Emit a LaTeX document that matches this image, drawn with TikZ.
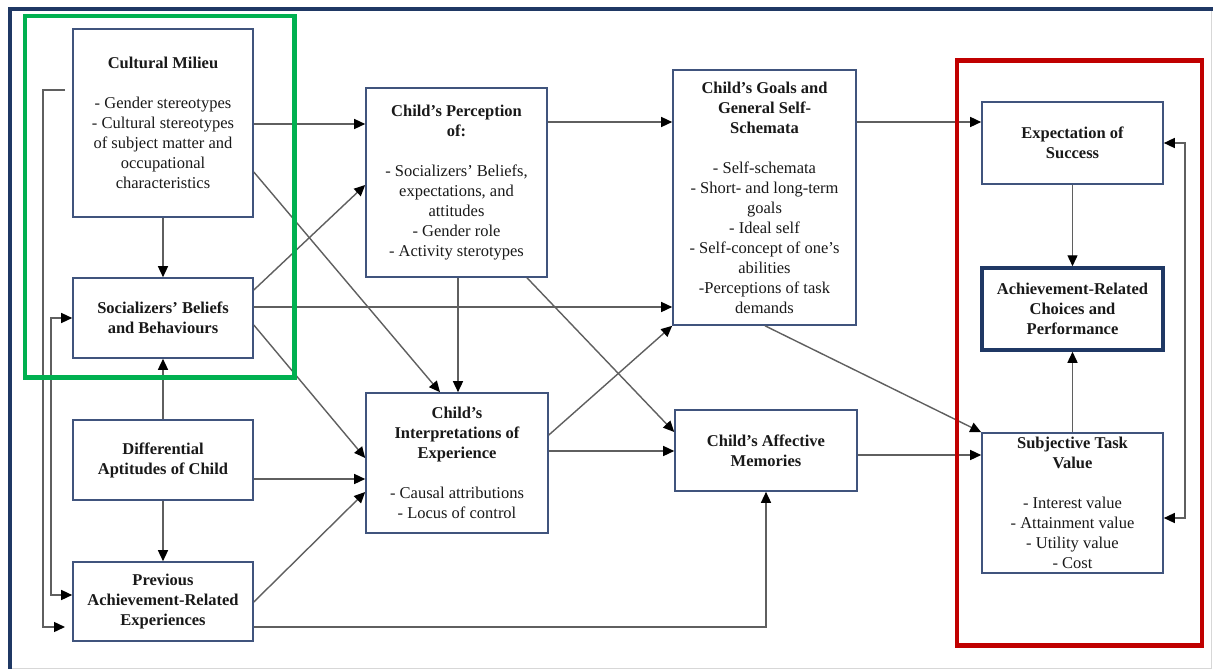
\documentclass[tikz,border=0pt]{standalone}
\usepackage{fontspec}
\setmainfont{Liberation Serif}
\usetikzlibrary{arrows.meta}
\definecolor{boxc}{RGB}{64,84,125}
\definecolor{navy}{RGB}{31,56,100}
\definecolor{linec}{RGB}{95,95,95}
\definecolor{grn}{RGB}{0,176,80}
\definecolor{rd}{RGB}{192,0,0}
\definecolor{txt}{RGB}{25,25,25}
\definecolor{edgegray}{RGB}{215,215,215}
\begin{document}
\begin{tikzpicture}[x=1pt,y=-1pt,
  box/.style={draw=boxc, line width=1.6pt, fill=white, align=center, inner sep=1pt,
              text=txt, font=\fontsize{16.5}{20}\selectfont},
  tbox/.style={box, font=\fontsize{16.5}{20}\selectfont\bfseries},
  conn/.style={draw=linec, line width=1.4pt, -{Triangle[length=11pt,width=10pt,color=black]}},
  conntwo/.style={draw=linec, line width=1.4pt,
     {Triangle[length=11pt,width=10pt,color=black]}-{Triangle[length=11pt,width=10pt,color=black]}},
  frameline/.style={line width=4.4pt}]
\useasboundingbox (0,0) rectangle (1213,669);
\fill[white] (0,0) rectangle (1213,669);

% page frame
\draw[edgegray, line width=1pt] (1211,11) -- (1211,668) -- (12,668);
\draw[navy, line width=4pt] (10,669) -- (10,9) -- (1213,9);

% nodes
\node[box, minimum width=180pt, minimum height=188pt] (cm) at (163,123)
  {\textbf{Cultural Milieu}\\[20pt]- Gender stereotypes\\- Cultural stereotypes\\of subject matter and\\occupational\\characteristics};
\node[tbox, minimum width=180pt, minimum height=80pt] (sb) at (163,318)
  {Socializers’ Beliefs\\and Behaviours};
\node[tbox, minimum width=180pt, minimum height=80pt] (da) at (163,460)
  {Differential\\Aptitudes of Child};
\node[tbox, minimum width=180pt, minimum height=79pt] (pa) at (163,601.5)
  {Previous\\Achievement-Related\\Experiences};
\node[box, minimum width=181pt, minimum height=189pt] (cp) at (456.5,182.5)
  {\textbf{Child’s Perception}\\\textbf{of:}\\[20pt]- Socializers’ Beliefs,\\expectations, and\\attitudes\\- Gender role\\- Activity  sterotypes};
\node[box, minimum width=182pt, minimum height=140pt] (ci) at (457,463)
  {\textbf{Child’s}\\\textbf{Interpretations of}\\\textbf{Experience}\\[20pt]- Causal attributions\\- Locus of control};
\node[box, minimum width=183pt, minimum height=255pt] (cg) at (764.5,197.5)
  {\textbf{Child’s Goals and}\\\textbf{General Self-}\\\textbf{Schemata}\\[20pt]- Self-schemata\\- Short- and long-term\\goals\\- Ideal self\\- Self-concept of one’s\\abilities\\-Perceptions of task\\demands};
\node[tbox, minimum width=182pt, minimum height=81pt] (ca) at (766,450.5)
  {Child’s Affective\\Memories};
\node[tbox, minimum width=181pt, minimum height=82pt] (es) at (1072.5,143)
  {Expectation of\\Success};
\node[tbox, draw=navy, line width=3.5pt, minimum width=181pt, minimum height=82pt] (ac) at (1072.5,309)
  {Achievement-Related\\Choices and\\Performance};
\node[box, minimum width=181pt, minimum height=140pt] (st) at (1072.5,503)
  {\textbf{Subjective Task}\\\textbf{Value}\\[20pt]- Interest value\\- Attainment value\\- Utility value\\- Cost};

% free ends of the outer feedback line
\coordinate (fa) at (65,90);
\coordinate (fb) at (65,627);

% connectors
\draw[conn] (cm.east |- 0,124) -- (cp.west |- 0,124);
\draw[conn] (cm.east |- 0,172) -- (440,0 |- ci.north);
\draw[conn] (cm.south) -- (sb.north);
\draw[conn] (fa) -- (43,90) -- (43,627) -- (fb);
\draw[conntwo] (sb.west |- 0,318) -- (51,318) -- (51,595) -- (pa.west |- 0,595);
\draw[conn] (sb.east |- 0,290) -- (cp.west |- 0,185);
\draw[conn] (sb.east |- 0,307) -- (cg.west |- 0,307);
\draw[conn] (sb.east |- 0,325) -- (ci.west |- 0,458);
\draw[conn] (da.north) -- (sb.south);
\draw[conn] (da.east |- 0,479) -- (ci.west |- 0,479);
\draw[conn] (da.south) -- (pa.north);
\draw[conn] (pa.east |- 0,602) -- (ci.west |- 0,492);
\draw[conn] (pa.east |- 0,627) -| (ca.south);
\draw[conn] (cp.east |- 0,122) -- (cg.west |- 0,122);
\draw[conn] (458,0 |- cp.south) -- (458,0 |- ci.north);
\draw[conn] (527,0 |- cp.south) -- (ca.west |- 0,432);
\draw[conn] (ci.east |- 0,435) -- (cg.south west);
\draw[conn] (ci.east |- 0,451) -- (ca.west |- 0,451);
\draw[conn] (cg.east |- 0,122) -- (es.west |- 0,122);
\draw[conn] (765,0 |- cg.south) -- (st.north west);
\draw[conn] (ca.east |- 0,455) -- (st.west |- 0,455);
\draw[conn] (es.south) -- (ac.north);
\draw[conn] (st.north) -- (ac.south);
\draw[conntwo] (es.east |- 0,143) -- (1185,143) -- (1185,518) -- (st.east |- 0,518);

% highlight frames
\draw[grn, frameline] (25,16) rectangle (294.5,377.5);
\draw[rd, frameline] (957,60.5) rectangle (1202,645.5);
\end{tikzpicture}
\end{document}
